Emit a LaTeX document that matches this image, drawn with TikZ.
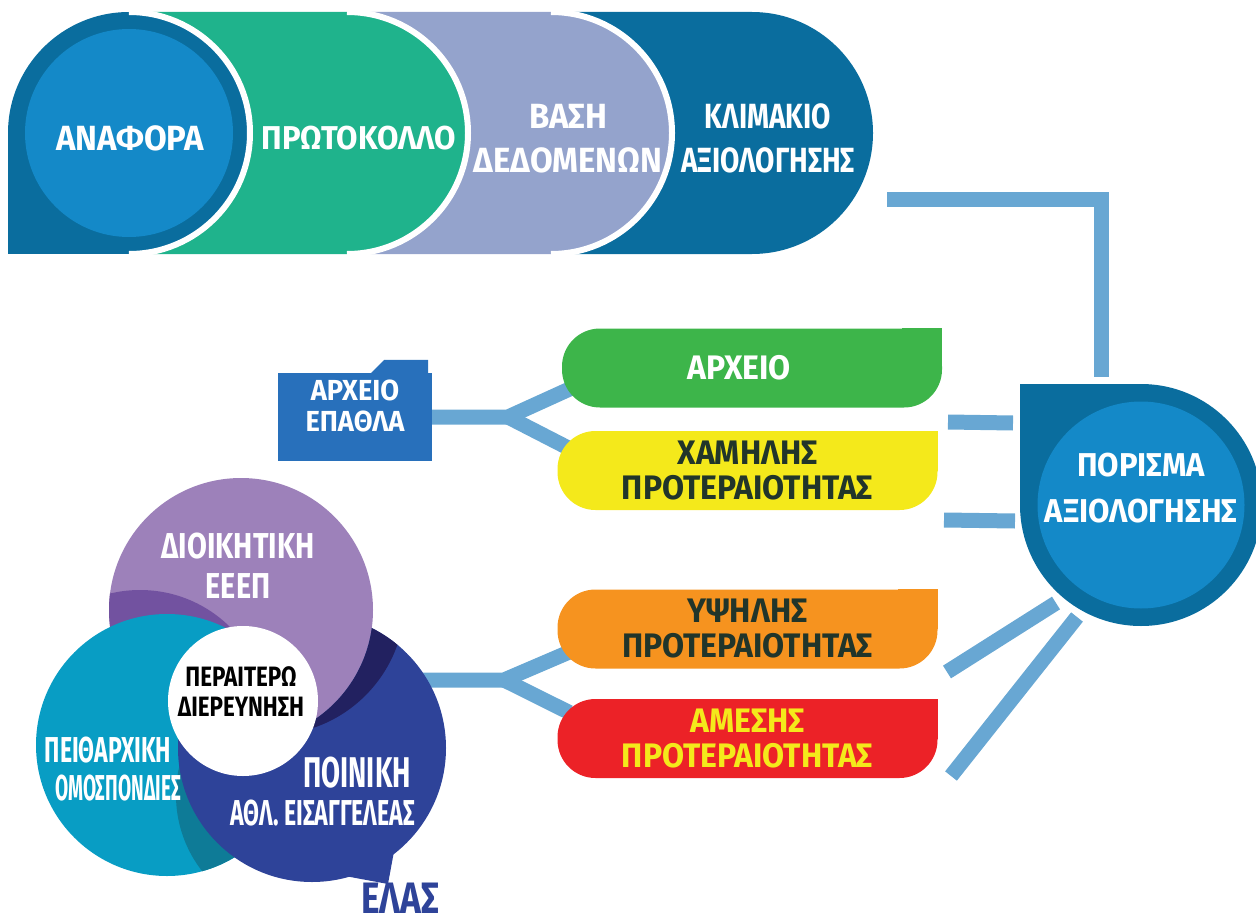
\documentclass[tikz,border=0pt]{standalone}
\usepackage{fontspec}
\newfontfamily\dinfont{Fira Sans}[FakeStretch=0.94]
\newfontfamily\dinmid{Fira Sans}[FakeStretch=0.8]
\newfontfamily\dinnarrow{Fira Sans}[FakeStretch=0.64]
\newfontfamily\dinslim{Fira Sans}[FakeStretch=0.53]
\usetikzlibrary{backgrounds}
\definecolor{bandark}{HTML}{0A6D9E}
\definecolor{banlight}{HTML}{1489C8}
\definecolor{bangreen}{HTML}{1FB38C}
\definecolor{banlav}{HTML}{94A3CC}
\definecolor{connblue}{HTML}{68A7D3}
\definecolor{filegreen}{HTML}{3DB54A}
\definecolor{fileyellow}{HTML}{F4E91B}
\definecolor{fileorange}{HTML}{F6931F}
\definecolor{filered}{HTML}{EC2227}
\definecolor{folderblue}{HTML}{2870BB}
\definecolor{darktext}{HTML}{21352A}
\definecolor{venpurple}{HTML}{9D81BA}
\definecolor{venpurpledk}{HTML}{7252A0}
\definecolor{venteal}{HTML}{089DC4}
\definecolor{ventealdk}{HTML}{0E7B97}
\definecolor{vennavy}{HTML}{2E4399}
\definecolor{vennavydk}{HTML}{222160}
\tikzset{
  fs/.style 2 args={font=\dinfont\bfseries\fontsize{#1}{#2}\selectfont},
  fsm/.style 2 args={font=\dinmid\bfseries\fontsize{#1}{#2}\selectfont},
  fsn/.style 2 args={font=\dinnarrow\bfseries\fontsize{#1}{#2}\selectfont},
  fss/.style 2 args={font=\dinslim\bfseries\fontsize{#1}{#2}\selectfont},
  lbl/.style={text=white, align=center, inner sep=0pt, fs={35}{44}},
  tag/.style={minimum width=380pt, minimum height=79pt, rounded corners=38pt,
    inner sep=0pt, align=center, fs={34}{35}},
  conn/.style={draw=connblue, line width=15pt},
}
\begin{document}
\begin{tikzpicture}[x=1pt,y=-1pt]
\useasboundingbox (0,0) rectangle (1256,923);
% Banda superior
\fill[bandark] (551,12) -- (752,12) arc[start angle=-90,end angle=90,radius=121] -- (551,254) -- cycle;
\fill[banlav] (347,12) -- (551,12) arc[start angle=-90,end angle=90,radius=121] -- (347,254) -- cycle;
\draw[white, line width=6pt] (551,12) arc[start angle=-90,end angle=90,radius=121];
\fill[bangreen] (129,12) -- (347,12) arc[start angle=-90,end angle=90,radius=121] -- (129,254) -- cycle;
\draw[white, line width=6pt] (347,12) arc[start angle=-90,end angle=90,radius=121];
\node[circle, fill=bandark, minimum size=242pt, inner sep=0pt, outer sep=0pt] (anafora-ring) at (129,133) {};
\fill[bandark] (anafora-ring.west) rectangle (anafora-ring.south);
\draw[white, line width=6pt] (anafora-ring.north) arc[start angle=-90,end angle=90,radius=121];
\node[circle, fill=banlight, minimum size=208pt, inner sep=0pt] (anafora-disc) at (129,133) {};
\node[lbl] (anafora) at (130,138) {ΑΝΑΦΟΡΑ};
\node[lbl, fs={33}{44}] (protokollo) at (359,138) {ΠΡΩΤΟΚΟΛΛΟ};
\node[lbl] (vasi) at (568,139) {ΒΑΣΗ\\ΔΕΔΟΜΕΝΩΝ};
\node[lbl, fsm={35}{44}] (klimakio) at (768,138) {ΚΛΙΜΑΚΙΟ\\ΑΞΙΟΛΟΓΗΣΗΣ};
% Porisma
\node[circle, fill=bandark, minimum size=242pt, inner sep=0pt, outer sep=0pt] (porisma-ring) at (1141,505) {};
\fill[bandark] (porisma-ring.west) rectangle (porisma-ring.north);
\node[circle, fill=banlight, minimum size=207pt] (porisma) at (1141,505) {};
\node[lbl, fs={33}{46}] (porisma-text) at ([yshift=17pt]porisma.center) {ΠΟΡΙΣΜΑ\\ΑΞΙΟΛΟΓΗΣΗΣ};
% Fakeloi
\node[tag, fill=filegreen, text=white, fs={34}{35}] (archeio) at (752,368) {ΑΡΧΕΙΟ\hspace*{26pt}};
\fill[filegreen] (archeio.north east) rectangle ++(-40,40);
\node[tag, fill=fileyellow, text=darktext] (chamilis) at (747.5,470.5) {ΧΑΜΗΛΗΣ\\ΠΡΟΤΕΡΑΙΟΤΗΤΑΣ};
\fill[fileyellow] (chamilis.north east) rectangle ++(-40,40);
\node[tag, fill=fileorange, text=darktext] (ypsilis) at (747.5,629) {ΥΨΗΛΗΣ\\ΠΡΟΤΕΡΑΙΟΤΗΤΑΣ};
\fill[fileorange] (ypsilis.north east) rectangle ++(-40,40);
\node[tag, fill=filered, text=fileyellow] (amesis) at (747.5,738.5) {ΑΜΕΣΗΣ\\ΠΡΟΤΕΡΑΙΟΤΗΤΑΣ};
\fill[filered] (amesis.north east) rectangle ++(-40,40);
% Archeio epathla
\node[fill=folderblue, minimum width=154pt, minimum height=88pt, inner sep=0pt,
  lbl, fs={29}{31}] (epathla) at (355,417) {ΑΡΧΕΙΟ\\ΕΠΑΘΛΑ\\[-8pt]};
\fill[folderblue] ([xshift=-61pt]epathla.north east) -- ++(13,-13)
  -- ([xshift=-4pt,yshift=13pt]epathla.north east) -- ([xshift=-4pt]epathla.north east) -- cycle;
% Venn
\fill[venpurple] (241,610) circle[radius=132];
\begin{scope}
  \clip (241,610) circle[radius=132];
  \fill[venpurpledk] (140,718) circle[radius=128];
\end{scope}
\fill[venteal] (167,745) circle[radius=131];
\begin{scope}
  \clip (167,745) circle[radius=131];
  \fill[ventealdk] (300,795) circle[radius=124];
\end{scope}
\begin{scope}
  \clip (312,748) circle[radius=134];
  \begin{scope}[even odd rule]
    \clip (0,0) rectangle (1256,923) (241,610) circle[radius=132];
    \fill[vennavy] (0,0) rectangle (1256,923);
    \fill[vennavydk] (270,600) circle[radius=135];
  \end{scope}
\end{scope}
\fill[vennavy] (397,835) -- (388,884) -- (345,876) -- cycle;
\node[circle, fill=white, minimum size=150pt, inner sep=0pt] (kentro) at (243,701) {};
\node[lbl, fsm={36}{40}] (dioikitiki) at (238,566) {ΔΙΟΙΚΗΤΙΚΗ\\ΕΕΕΠ};
\node[lbl, text=black, fsm={28}{30}] (peraitero) at (241,692) {ΠΕΡΑΙΤΕΡΩ\\ΔΙΕΡΕΥΝΗΣΗ};
\node[lbl, fsn={36}{38}] (peitharchiki) at (108,750) {ΠΕΙΘΑΡΧΙΚΗ};
\node[lbl, fss={36}{38}] (omospondies) at (118,788) {ΟΜΟΣΠΟΝΔΙΕΣ};
\node[lbl, fsn={43}{46}, anchor=east] (poiniki) at (411,773) {ΠΟΙΝΙΚΗ};
\node[lbl, fsn={36}{40}, anchor=east] (eisaggeleas) at (415,813) {ΑΘΛ. ΕΙΣΑΓΓΕΛΕΑΣ};
\node[lbl, text=vennavy, fsm={44}{48}, anchor=base] (elas) at (400,913) {ΕΛΑΣ};
% Syndeseis
\coordinate (klimakio-out) at (887,199.5);
\coordinate (porisma-in) at (1101,377);
\coordinate (fork-a) at (508,417);
\coordinate (venn-out) at (415,680);
\coordinate (fork-b) at (504,680);
\coordinate (b1s) at (948,422); \coordinate (b1e) at (1013,423);
\coordinate (b2s) at (944,520); \coordinate (b2e) at (1015,521);
\coordinate (b3s) at (947,672); \coordinate (b3e) at (1056,603);
\coordinate (b4s) at (951,776); \coordinate (b4e) at (1077,617);
\begin{scope}[on background layer]
  \draw[conn] (klimakio-out) -| (porisma-in);
  \draw[conn] (epathla.east) -- (fork-a) -- ([xshift=10pt,yshift=-20pt]archeio.west);
  \draw[conn] (fork-a) -- ([xshift=12pt,yshift=22pt]chamilis.west);
  \draw[conn] (venn-out) -- (fork-b) -- ([xshift=12pt,yshift=-23pt]ypsilis.west);
  \draw[conn] (fork-b) -- ([xshift=12pt,yshift=26pt]amesis.west);
  \draw[conn] (b1s) -- (b1e);
  \draw[conn] (b2s) -- (b2e);
  \draw[conn] (b3s) -- (b3e);
  \draw[conn] (b4s) -- (b4e);
\end{scope}
\end{tikzpicture}
\end{document}
